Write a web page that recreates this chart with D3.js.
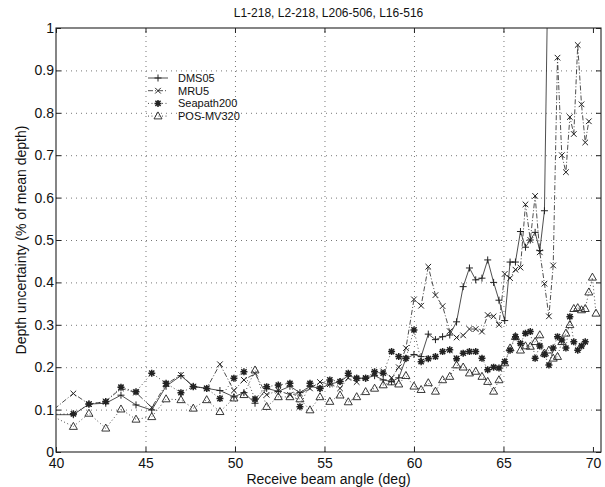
<!DOCTYPE html>
<html>
<head>
<meta charset="utf-8">
<script src="https://cdn.jsdelivr.net/npm/d3@7"></script>
<style>
  body { margin: 0; background: #fff; }
  svg { display: block; font-family: "Liberation Sans", Arial, Helvetica, sans-serif; }
</style>
</head>
<body>
<div id="chart-container"></div>
<script>
// depth uncertainty vs receive beam angle, four motion sensors
// values

const chartTitle = "L1-218, L2-218, L206-506, L16-516";
const xLabel = "Receive beam angle (deg)";
const yLabel = "Depth uncertainty (% of mean depth)";

const seriesNames = ["DMS05", "MRU5", "Seapath200", "POS-MV320"];

const angles = [
  39.05, 40.97, 41.84, 42.78, 43.63, 44.47, 45.35, 46.15, 46.98, 47.67,
  48.42, 49.16, 49.94, 50.5, 51.12, 51.77, 52.42, 53.07, 53.63, 54.19,
  54.75, 55.3, 55.87, 56.33, 56.8, 57.3, 57.8, 58.28, 58.75, 59.15,
  59.55, 60.0, 60.4, 60.8, 61.2, 61.6, 62.0, 62.38, 62.75, 63.1,
  63.45, 63.8, 64.12, 64.45, 64.75, 65.07, 65.37, 65.67, 65.95, 66.23,
  66.5, 66.77, 67.03, 67.29, 67.54, 67.78, 68.02, 68.26, 68.49, 68.71,
  68.93, 69.15, 69.36, 69.57, 69.77, 69.97, 70.17
];

const dms05 = [
  0.088, 0.088, 0.113, 0.115, 0.134, 0.111, 0.099, 0.155, 0.180, 0.155,
  0.150, 0.145, 0.130, 0.140, 0.115, 0.150, 0.143, 0.155, 0.140, 0.155,
  0.150, 0.160, 0.166, 0.180, 0.174, 0.174, 0.180, 0.170, 0.166, 0.175,
  0.220, 0.230, 0.225, 0.278, 0.265, 0.272, 0.276, 0.307, 0.390, 0.434,
  0.406, 0.410, 0.453, 0.400, 0.358, 0.310, 0.448, 0.448, 0.520, 0.483,
  0.500, 0.518, 0.475, 0.569, 1.300, null, null, null, null, null,
  null, null, null, null, null, null, null
];

const mru5 = [
  0.072, 0.138, 0.113, 0.119, 0.150, 0.140, 0.105, 0.160, 0.182, 0.154,
  0.150, 0.207, 0.145, 0.170, 0.185, 0.135, 0.145, 0.135, 0.138, 0.150,
  0.165, 0.160, 0.150, 0.175, 0.165, 0.175, 0.185, 0.190, 0.175, 0.200,
  0.245, 0.360, 0.345, 0.437, 0.370, 0.344, 0.285, 0.270, 0.275, 0.290,
  0.290, 0.284, 0.323, 0.320, 0.300, 0.420, 0.410, 0.430, 0.435, 0.584,
  0.500, 0.604, 0.471, 0.397, 0.320, 0.440, 0.930, 0.700, 0.660, 0.790,
  0.750, 0.960, 0.820, 0.730, 0.780, null, null
];

const seapath200 = [
  0.088, 0.090, 0.113, 0.119, 0.153, 0.142, 0.186, 0.162, 0.140, 0.154,
  0.150, 0.126, 0.174, 0.189, 0.125, 0.154, 0.158, 0.162, 0.107, 0.162,
  0.150, 0.170, 0.166, 0.186, 0.174, 0.174, 0.189, 0.186, 0.237, 0.225,
  0.221, 0.288, 0.213, 0.220, 0.225, 0.237, 0.241, 0.220, 0.233, 0.237,
  0.237, 0.221, 0.194, 0.200, 0.198, 0.213, 0.240, 0.272, 0.256, 0.280,
  0.284, 0.221, 0.250, 0.230, 0.205, 0.245, 0.272, 0.264, 0.245, 0.319,
  0.260, 0.240, 0.250, 0.260, null, null, null
];

const posmv320 = [
  0.100, 0.060, 0.091, 0.056, 0.101, 0.077, 0.083, 0.125, 0.123, 0.103,
  0.123, 0.095, 0.127, 0.135, 0.193, 0.107, 0.130, 0.130, 0.125, 0.099,
  0.130, 0.119, 0.134, 0.118, 0.130, 0.142, 0.150, 0.158, 0.165, 0.160,
  0.180, 0.155, 0.147, 0.163, 0.143, 0.170, 0.178, 0.205, 0.200, 0.186,
  0.190, 0.178, 0.166, 0.143, 0.170, 0.210, 0.245, 0.272, 0.240, 0.250,
  0.249, 0.260, 0.276, 0.233, 0.240, 0.221, 0.225, 0.260, 0.280, 0.300,
  0.338, 0.340, 0.335, 0.338, 0.377, 0.412, 0.327
];

const xTicks = [40, 45, 50, 55, 60, 65, 70];
const yTicks = [0, 0.1, 0.2, 0.3, 0.4, 0.5, 0.6, 0.7, 0.8, 0.9, 1];
const yTickLabels = ["0", "0.1", "0.2", "0.3", "0.4", "0.5", "0.6", "0.7", "0.8", "0.9", "1"];

const svgWidth = 605;
const svgHeight = 487;
const margin = { top: 28, right: 4, bottom: 35, left: 56 };
const width = svgWidth - margin.left - margin.right;
const height = svgHeight - margin.top - margin.bottom;

const ink = "#222";

const svg = d3.select("#chart-container")
  .append("svg")
  .attr("width", svgWidth)
  .attr("height", svgHeight);

const chart = svg.append("g")
  .attr("transform", `translate(${margin.left},${margin.top})`);

const scaleX = d3.scaleLinear().domain([40, 70.45]).range([0, width]);
const scaleY = d3.scaleLinear().domain([0, 1]).range([height, 0]);

// dotted grid
chart.append("g")
  .attr("class", "grid")
  .attr("transform", `translate(0,${height})`)
  .call(d3.axisBottom(scaleX).tickValues(xTicks.slice(1, -1)).tickSize(-height).tickFormat(""))
  .call(g => g.select(".domain").remove());
chart.append("g")
  .attr("class", "grid")
  .call(d3.axisLeft(scaleY).tickValues(yTicks.slice(1, -1)).tickSize(-width).tickFormat(""))
  .call(g => g.select(".domain").remove());
chart.selectAll(".grid line")
  .attr("stroke", "#555")
  .attr("stroke-width", 0.8)
  .attr("stroke-dasharray", "1,4");

// axes with inward ticks (matlab style), on all four sides
const bottomAxis = chart.append("g")
  .attr("transform", `translate(0,${height})`)
  .call(d3.axisBottom(scaleX).tickValues(xTicks).tickSizeInner(-5).tickSizeOuter(0).tickPadding(4));
const leftAxis = chart.append("g")
  .call(d3.axisLeft(scaleY).tickValues(yTicks).tickFormat((d, i) => yTickLabels[i])
    .tickSizeInner(-5).tickSizeOuter(0).tickPadding(2));
chart.append("g")
  .call(d3.axisTop(scaleX).tickValues(xTicks).tickSizeInner(-5).tickSizeOuter(0).tickFormat(""));
chart.append("g")
  .attr("transform", `translate(${width},0)`)
  .call(d3.axisRight(scaleY).tickValues(yTicks).tickSizeInner(-5).tickSizeOuter(0).tickFormat(""));

chart.selectAll(".domain").remove();
chart.selectAll(".tick line").filter(function() { return !this.parentNode.parentNode.classList.contains("grid"); })
  .attr("stroke", ink);
[bottomAxis, leftAxis].forEach(a => a.selectAll("text")
  .attr("fill", "#111")
  .attr("font-size", "14px"));
bottomAxis.selectAll("text").attr("dy", "12px");

chart.append("rect")
  .attr("width", width)
  .attr("height", height)
  .attr("fill", "none")
  .attr("stroke", ink)
  .attr("stroke-width", 1.1);

// labels
svg.append("text")
  .attr("x", margin.left + width / 2)
  .attr("y", 17)
  .attr("text-anchor", "middle")
  .attr("font-size", "12px")
  .attr("fill", "#111")
  .text(chartTitle);

svg.append("text")
  .attr("x", margin.left + width / 2)
  .attr("y", svgHeight - 3)
  .attr("text-anchor", "middle")
  .attr("font-size", "14px")
  .attr("fill", "#111")
  .text(xLabel);

svg.append("text")
  .attr("transform", "rotate(-90)")
  .attr("x", -(margin.top + height / 2))
  .attr("y", 26)
  .attr("text-anchor", "middle")
  .attr("font-size", "14px")
  .attr("fill", "#111")
  .text(yLabel);

// marker shapes
function markerPath(kind) {
  if (kind === "plus") return "M-3.5,0H3.5M0,-3.5V3.5";
  if (kind === "times") return "M-2.8,-2.8L2.8,2.8M-2.8,2.8L2.8,-2.8";
  if (kind === "star") return "M-3.5,0H3.5M0,-3.5V3.5M-2.6,-2.6L2.6,2.6M-2.6,2.6L2.6,-2.6";
  return "M0,-4.2L4,2.8H-4Z";
}

const series = [
  { name: seriesNames[0], values: dms05, dash: null, marker: "plus", mw: 1 },
  { name: seriesNames[1], values: mru5, dash: "5,2,1,2", marker: "times", mw: 1 },
  { name: seriesNames[2], values: seapath200, dash: "1,2.5", marker: "star", mw: 1.5 },
  { name: seriesNames[3], values: posmv320, dash: "1,2.5", marker: "tri", mw: 0.9 }
];

svg.append("defs").append("clipPath")
  .attr("id", "plot-clip")
  .append("rect")
  .attr("width", width)
  .attr("height", height);

const plot = chart.append("g").attr("clip-path", "url(#plot-clip)");

const line = d3.line()
  .defined(d => d.v !== null)
  .x(d => scaleX(d.a))
  .y(d => scaleY(d.v));

series.forEach(s => {
  const pts = angles.map((a, i) => ({ a: a, v: s.values[i] }));
  plot.append("path")
    .datum(pts)
    .attr("fill", "none")
    .attr("stroke", ink)
    .attr("stroke-width", 0.8)
    .attr("stroke-dasharray", s.dash)
    .attr("d", line);
  plot.selectAll(null)
    .data(pts.filter(d => d.v !== null))
    .enter()
    .append("path")
    .attr("transform", d => `translate(${scaleX(d.a)},${scaleY(d.v)})`)
    .attr("d", markerPath(s.marker))
    .attr("fill", "none")
    .attr("stroke", ink)
    .attr("stroke-width", s.mw);
});

// legend, no box
const legend = svg.append("g").attr("transform", "translate(148,78)");
series.forEach((s, i) => {
  const row = legend.append("g").attr("transform", `translate(0,${i * 12.7})`);
  row.append("line")
    .attr("x1", 0).attr("x2", 20)
    .attr("stroke", ink)
    .attr("stroke-width", 0.8)
    .attr("stroke-dasharray", s.dash);
  row.append("path")
    .attr("transform", "translate(10,0)")
    .attr("d", markerPath(s.marker))
    .attr("fill", "none")
    .attr("stroke", ink)
    .attr("stroke-width", s.mw);
  row.append("text")
    .attr("x", 30)
    .attr("dy", "0.35em")
    .attr("font-size", "11px")
    .attr("fill", "#111")
    .text(s.name);
});
</script>
</body>
</html>
